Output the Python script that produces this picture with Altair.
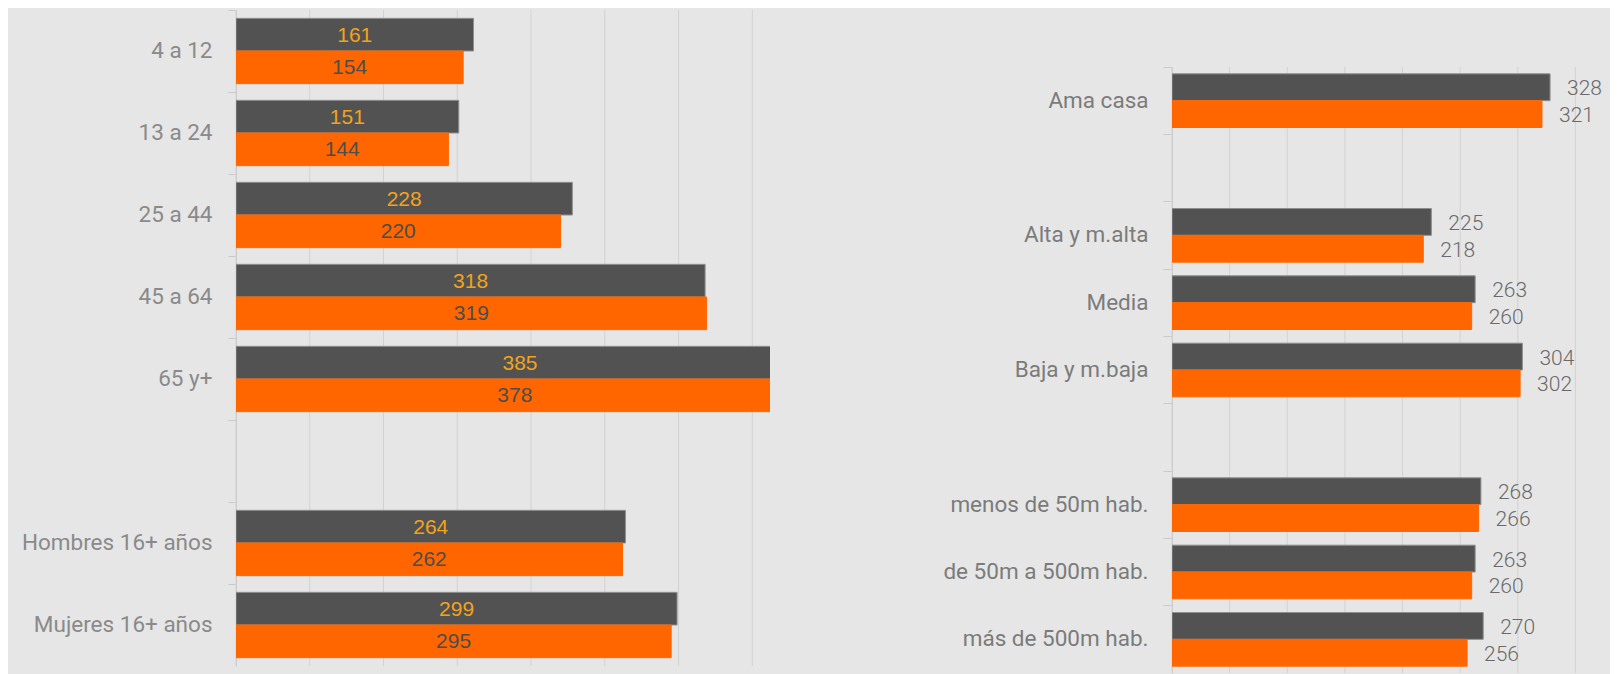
import altair as alt
import pandas as pd

# ---- data ----
series = ["Serie 1", "Serie 2"]

left_cats = ["4 a 12", "13 a 24", "25 a 44", "45 a 64", "65 y+", "_b1",
             "Hombres 16+ años", "Mujeres 16+ años"]
left_dark = [161, 151, 228, 318, 385, 264, 299]
left_orange = [154, 144, 220, 319, 378, 262, 295]

right_cats = ["Ama casa", "_b2", "Alta y m.alta", "Media", "Baja y m.baja", "_b3",
              "menos de 50m hab.", "de 50m a 500m hab.", "más de 500m hab."]
right_dark = [328, 225, 263, 304, 268, 263, 270]
right_orange = [321, 218, 260, 302, 266, 260, 256]

grid_values = [0, 50, 100, 150, 200, 250, 300, 350]


def make_df(cats, a, b):
    real = [c for c in cats if not c.startswith("_b")]
    rows = []
    for c, va, vb in zip(real, a, b):
        rows.append({"cat": c, "serie": series[0], "valor": va})
        rows.append({"cat": c, "serie": series[1], "valor": vb})
    return pd.DataFrame(rows)


BG = "#E6E6E6"
DARK = "#525252"
ORANGE = "#FF6600"
LINE = "#C9C9C9"
GRID = "#D2D2D2"


def panel(df, cats, width, height, y_range, xmax, y_ext, tick, lab_pad,
          lab_color, inside):
    step = (y_range[1] - y_range[0]) / len(cats)
    yaxis = alt.Axis(
        title=None,
        labelExpr="indexof(datum.label, '_b') == 0 ? '' : datum.label",
        labelFont="Roboto", labelFontSize=22.5, labelColor=lab_color,
        labelPadding=lab_pad, labelLimit=400, tickSize=tick, tickColor=LINE,
        domainColor=LINE, bandPosition=0, minExtent=y_ext, maxExtent=y_ext,
        grid=False,
    )
    y = alt.Y("cat:N", sort=cats,
              scale=alt.Scale(domain=cats, paddingInner=0, paddingOuter=0,
                              range=y_range),
              axis=yaxis)
    yoff = alt.YOffset("serie:N", sort=series,
                       scale=alt.Scale(domain=series, paddingInner=0,
                                       paddingOuter=0.255, range=[0, step]))
    xscale = alt.Scale(domain=[0, xmax], nice=False, zero=True)

    grid_df = pd.DataFrame({"g": grid_values})
    grid = alt.Chart(grid_df).mark_rule(color=GRID, strokeWidth=1).encode(
        x=alt.X("g:Q", scale=xscale, axis=None),
        y=alt.value(y_range[0]),
        y2=alt.value(y_range[1]),
    )

    bars = alt.Chart(df).mark_bar(clip=True, strokeWidth=1).encode(
        x=alt.X("valor:Q", scale=xscale, axis=None),
        y=y,
        yOffset=yoff,
        color=alt.Color("serie:N", scale=alt.Scale(domain=series, range=[DARK, ORANGE]),
                        legend=None),
        stroke=alt.Stroke("serie:N", scale=alt.Scale(domain=series, range=["#8E8E8E", ORANGE]),
                          legend=None),
    )
    if inside:
        txt = alt.Chart(df).transform_calculate(half="datum.valor / 2").mark_text(
            font="Liberation Sans", fontSize=21, align="center", baseline="middle", dy=1
        ).encode(
            x=alt.X("half:Q", scale=xscale, axis=None),
            y=y,
            yOffset=yoff,
            text=alt.Text("valor:Q"),
            color=alt.condition(alt.datum.serie == series[0],
                                alt.value("#F2A31B"), alt.value("#4D4D4D")),
        )
    else:
        txt = alt.Chart(df).mark_text(
            font="Roboto", fontSize=21, fontWeight=300, align="left",
            baseline="middle", dx=17, dy=2, color="#6A6A6A"
        ).encode(
            x=alt.X("valor:Q", scale=xscale, axis=None),
            y=y,
            yOffset=yoff,
            text=alt.Text("valor:Q"),
        )
    return alt.layer(grid, bars, txt).properties(width=width, height=height)


left = panel(make_df(left_cats, left_dark, left_orange), left_cats,
             width=534, height=663, y_range=[0, 656], xmax=362, y_ext=228,
             tick=8, lab_pad=16, lab_color="#8A8A8A", inside=True)
right = panel(make_df(right_cats, right_dark, right_orange), right_cats,
              width=438, height=663, y_range=[57, 663], xmax=380, y_ext=250,
              tick=9, lab_pad=15, lab_color="#7B7B7B", inside=False)

chart = alt.hconcat(left, right, spacing=152).resolve_scale(
    x="independent", y="independent", yOffset="independent",
    color="independent", stroke="independent",
).properties(
    padding={"top": 1, "left": 0, "right": 0, "bottom": 0},
    background=BG,
).configure_view(stroke=None)

chart.save("out.html", embed_options={"renderer": "svg", "actions": False})
